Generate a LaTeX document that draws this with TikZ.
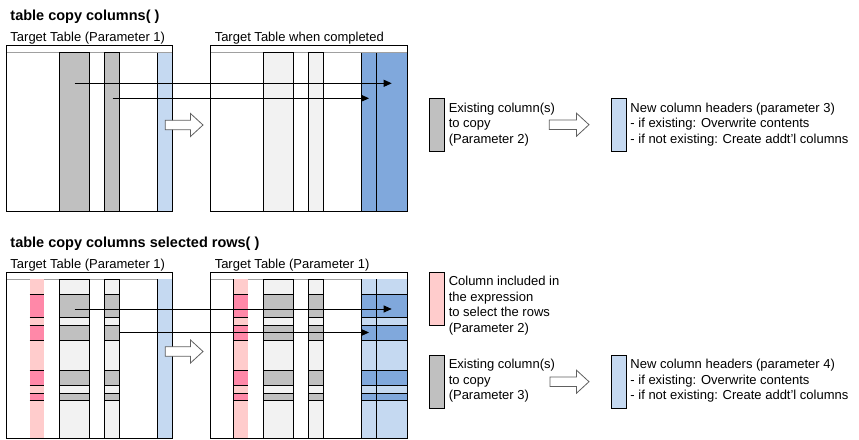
\documentclass[tikz,border=0pt]{standalone}
\usepackage{fontspec}
\setmainfont{Liberation Sans}
\usetikzlibrary{arrows.meta}
\definecolor{cgray}{HTML}{C0C0C0}
\definecolor{clgray}{HTML}{F2F2F2}
\definecolor{clblue}{HTML}{C5D9F1}
\definecolor{cmblue}{HTML}{80A8DC}
\definecolor{clpink}{HTML}{FFCCCC}
\definecolor{cdpink}{HTML}{FF88A8}
\definecolor{hdr}{HTML}{A0A0A0}
\definecolor{harrow}{HTML}{606060}
\newcommand\hollowarrow[3]{%
  \draw[hollow] (#1,{#3-4.7}) -- ({#2-12.5},{#3-4.7}) -- ({#2-12.5},{#3-11.5}) -- (#2,#3)
    -- ({#2-12.5},{#3+11.5}) -- ({#2-12.5},{#3+4.7}) -- (#1,{#3+4.7}) -- cycle;}
\newcommand\rowcol[4]{%
  \fill[#3] (#1,279.3) rectangle (#2,438.3);
  \foreach \ra/\rb in {294.3/317.3,325.3/340.3,370.5/385.3,393/400.3}{%
    \fill[#4] (#1,\ra) rectangle (#2,\rb);
    \draw (#1,\ra) -- (#2,\ra);
    \draw (#1,\rb) -- (#2,\rb);}}
\begin{document}
\begin{tikzpicture}[x=1pt,y=-1pt,line width=0.9pt,
  lbl/.style={font=\fontsize{13}{15}\selectfont,inner sep=0pt,anchor=base west},
  ttl/.style={font=\fontsize{14.5}{17}\selectfont\bfseries,inner sep=0pt,anchor=base west},
  thinarrow/.style={draw=black,line width=0.9pt,-{Triangle[length=8pt,width=7pt]}},
  hollow/.style={draw=harrow,fill=white,line width=0.8pt},
  legbox/.style={draw=black,line width=0.9pt}]
\useasboundingbox (0,0) rectangle (859,439);
\fill[white] (0,0) rectangle (859,439);

% ---------------- top section ----------------
\node[ttl] (t1) at (10,20.7) {table copy columns( )};
\node[lbl] (h1) at (10,41.7) {Target Table (Parameter 1)};
\node[lbl] (h2) at (214.3,41.7) {Target Table when completed};

% top-left table
\draw[fill=white] (6.3,45.5) rectangle (172.3,211);
\draw[hdr] (6.3,52.5) -- (172.3,52.5);
\draw[fill=cgray] (59.7,52.5) rectangle (89.3,211);
\draw[fill=cgray] (104.3,52.5) rectangle (119.3,211);
\fill[clblue] (157.3,52.5) rectangle (172.3,211);
\draw (157.3,52.5) -- (157.3,211);
\draw (6.3,45.5) rectangle (172.3,211);

% top-right table
\draw[fill=white] (210.3,45.5) rectangle (407.3,211);
\draw[hdr] (210.3,52.5) -- (407.3,52.5);
\draw[fill=clgray] (263.3,52.5) rectangle (293.3,211);
\draw[fill=clgray] (308.3,52.5) rectangle (323.3,211);
\fill[cmblue] (361.3,52.5) rectangle (407.3,211);
\draw (361.3,52.5) -- (361.3,211);
\draw (376.3,52.5) -- (376.3,211);
\draw (210.3,45.5) rectangle (407.3,211);

% arrows top
\coordinate (a1s) at (74.7,83.3);
\coordinate (a1e) at (391.7,83.3);
\coordinate (a2s) at (112.7,98.3);
\coordinate (a2e) at (369,98.3);
\draw[thinarrow] (a1s) -- (a1e);
\draw[thinarrow] (a2s) -- (a2e);
\hollowarrow{165.3}{203}{125}

% top legend
\draw[legbox,fill=cgray] (429,98.3) rectangle (444,151.7);
\node[lbl] (l1a) at (448.3,112.3) {Existing column(s)};
\node[lbl] (l1b) at (448.3,127.7) {to copy};
\node[lbl] (l1c) at (448.3,143.3) {(Parameter 2)};
\hollowarrow{549.3}{589}{124.7}
\draw[legbox,fill=clblue] (611,98.3) rectangle (626,151.7);
\node[lbl] (l2a) at (630,112.3) {New column headers (parameter 3)};
\node[lbl] (l2b) at (630,127.7) {- if existing: Overwrite contents};
\node[lbl] (l2c) at (630,143.3) {- if not existing: Create addt'l columns};

% ---------------- bottom section ----------------
\node[ttl] (t2) at (10,247.3) {table copy columns selected rows( )};
\node[lbl] (h3) at (10,268.5) {Target Table (Parameter 1)};
\node[lbl] (h4) at (214.3,268.5) {Target Table (Parameter 1)};

% bottom-left table
\draw[fill=white] (6.3,272.3) rectangle (172.3,438.3);
\draw[hdr] (6.3,279.3) -- (172.3,279.3);
\rowcol{29.7}{44.3}{clpink}{cdpink}
\rowcol{59.7}{89.3}{clgray}{cgray}
\draw (59.7,279.3) rectangle (89.3,438.3);
\rowcol{104.3}{119.3}{clgray}{cgray}
\draw (104.3,279.3) rectangle (119.3,438.3);
\fill[clblue] (157.3,279.3) rectangle (172.3,438.3);
\draw (157.3,279.3) -- (157.3,438.3);
\draw (6.3,272.3) rectangle (172.3,438.3);

% bottom-right table
\draw[fill=white] (210.3,272.3) rectangle (407.3,438.3);
\draw[hdr] (210.3,279.3) -- (407.3,279.3);
\rowcol{233.7}{248.3}{clpink}{cdpink}
\draw (233.7,279.3) -- (233.7,438.3);
\rowcol{263.3}{293.3}{clgray}{cgray}
\draw (263.3,279.3) rectangle (293.3,438.3);
\rowcol{308.3}{323.3}{clgray}{cgray}
\draw (308.3,279.3) rectangle (323.3,438.3);
\rowcol{361.3}{407.3}{clblue}{cmblue}
\draw (361.3,279.3) -- (361.3,438.3);
\draw (376.3,279.3) -- (376.3,438.3);
\draw (210.3,272.3) rectangle (407.3,438.3);

% arrows bottom
\coordinate (b1s) at (74.7,309);
\coordinate (b1e) at (391.7,309);
\coordinate (b2s) at (119.3,332.5);
\coordinate (b2e) at (369,332.5);
\draw[thinarrow] (b1s) -- (b1e);
\draw[thinarrow] (b2s) -- (b2e);
\hollowarrow{165.3}{203}{351.5}

% bottom legend
\draw[legbox,fill=clpink] (429,272.3) rectangle (444,325.7);
\node[lbl] (l3a) at (448.3,285) {Column included in};
\node[lbl] (l3b) at (448.3,301) {the expression};
\node[lbl] (l3c) at (448.3,316.7) {to select the rows};
\node[lbl] (l3d) at (448.3,332.7) {(Parameter 2)};
\draw[legbox,fill=cgray] (429,355.7) rectangle (444,408.3);
\node[lbl] (l4a) at (448.3,368.3) {Existing column(s)};
\node[lbl] (l4b) at (448.3,384) {to copy};
\node[lbl] (l4c) at (448.3,399.3) {(Parameter 3)};
\hollowarrow{550}{589}{381.7}
\draw[legbox,fill=clblue] (611,355.7) rectangle (626,408.3);
\node[lbl] (l5a) at (630,368.3) {New column headers (parameter 4)};
\node[lbl] (l5b) at (630,384) {- if existing: Overwrite contents};
\node[lbl] (l5c) at (630,399.3) {- if not existing: Create addt'l columns};
\end{tikzpicture}
\end{document}
